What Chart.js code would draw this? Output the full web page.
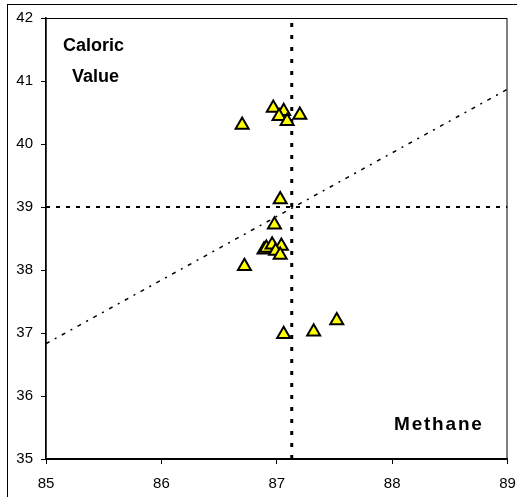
<!DOCTYPE html>
<html>
<head>
<meta charset="utf-8">
<script src="https://cdn.jsdelivr.net/npm/chart.js@4"></script>
<style>
  body { margin: 0; background: #fff; }
  canvas { display: block; }
</style>
</head>
<body>
<canvas id="grafico" width="517" height="497"></canvas>
<script>
// valores
const metano = [86.70, 86.97, 87.06, 87.02, 87.09, 87.20, 87.03, 86.98, 86.89, 86.91, 86.96, 87.04, 86.99, 87.03, 86.72, 87.06, 87.32, 87.52];
const calorico = [40.30, 40.57, 40.52, 40.44, 40.36, 40.46, 39.12, 38.72, 38.32, 38.35, 38.40, 38.38, 38.30, 38.24, 38.06, 36.98, 37.02, 37.20];
const mediaMetano = 87.13;
const mediaCalorico = 39;
const tendenciaX = [85, 89];
const tendenciaY = [36.83, 40.87];

const pontos = metano.map((x, i) => ({ x: x, y: calorico[i] }));

const textos = {
    id: 'textos',
    beforeDraw(chart) {
        const c = chart.ctx;
        c.save();
        c.strokeStyle = '#000';
        c.lineWidth = 1;
        c.strokeRect(7.5, 4.5, 700, 700);
        c.restore();
    },
    afterDatasetsDraw(chart) {
        const c = chart.ctx;
        const a = chart.chartArea;
        c.save();
        c.strokeStyle = '#000';
        c.lineWidth = 1;
        c.strokeRect(a.left, a.top + 0.5, a.right - a.left - 0.5, a.bottom - a.top);
        c.fillStyle = '#000';
        c.font = 'bold 18px "Liberation Sans", Arial, sans-serif';
        c.textBaseline = 'alphabetic';
        c.fillText('Caloric', 63, 51);
        c.fillText('Value', 72, 82);
        c.font = 'bold 19px "Liberation Sans", Arial, sans-serif';
        c.letterSpacing = '1.8px';
        c.fillText('Methane', 394, 430);
        c.restore();
    }
};

const ctx = document.getElementById('grafico').getContext('2d');
const grafico = new Chart(ctx, {
    type: 'scatter',
    data: {
        datasets: [
            {
                data: pontos,
                pointStyle: 'triangle',
                pointRadius: 7.5,
                pointBackgroundColor: '#FFFF00',
                pointBorderColor: '#000',
                pointBorderWidth: 2,
                order: 0
            },
            {
                type: 'line',
                data: [{ x: mediaMetano, y: 35 }, { x: mediaMetano, y: 42 }],
                borderColor: '#000',
                borderWidth: 3,
                borderDash: [4, 8],
                pointRadius: 0,
                order: 1
            },
            {
                type: 'line',
                data: [{ x: 85, y: mediaCalorico }, { x: 89, y: mediaCalorico }],
                borderColor: '#000',
                borderWidth: 2,
                borderDash: [4, 6],
                pointRadius: 0,
                order: 1
            },
            {
                type: 'line',
                data: tendenciaX.map((x, i) => ({ x: x, y: tendenciaY[i] })),
                borderColor: '#000',
                borderWidth: 1.5,
                borderDash: [4, 6, 2, 6],
                pointRadius: 0,
                order: 2
            }
        ]
    },
    options: {
        responsive: false,
        animation: false,
        devicePixelRatio: 1,
        layout: { padding: { left: 0, top: 18, right: 5, bottom: 0 } },
        plugins: { legend: { display: false }, tooltip: { enabled: false } },
        scales: {
            x: {
                type: 'linear',
                min: 85,
                max: 89,
                afterFit: (s) => { s.height = 38; s.paddingRight = 0; s.paddingLeft = 0; },
                ticks: {
                    stepSize: 1,
                    color: '#000',
                    padding: 11,
                    font: { family: '"Liberation Sans", Arial, sans-serif', size: 15 }
                },
                grid: { drawOnChartArea: false, tickLength: 5, color: '#000', lineWidth: 1 },
                border: { color: '#000', width: 1.5 }
            },
            y: {
                min: 35,
                max: 42,
                afterFit: (s) => { s.width = 46; },
                ticks: {
                    stepSize: 1,
                    color: '#000',
                    padding: 8,
                    font: { family: '"Liberation Sans", Arial, sans-serif', size: 15 }
                },
                grid: { drawOnChartArea: false, tickLength: 5, color: '#000', lineWidth: 1 },
                border: { color: '#000', width: 1.5 }
            }
        }
    },
    plugins: [textos]
});
</script>
</body>
</html>
